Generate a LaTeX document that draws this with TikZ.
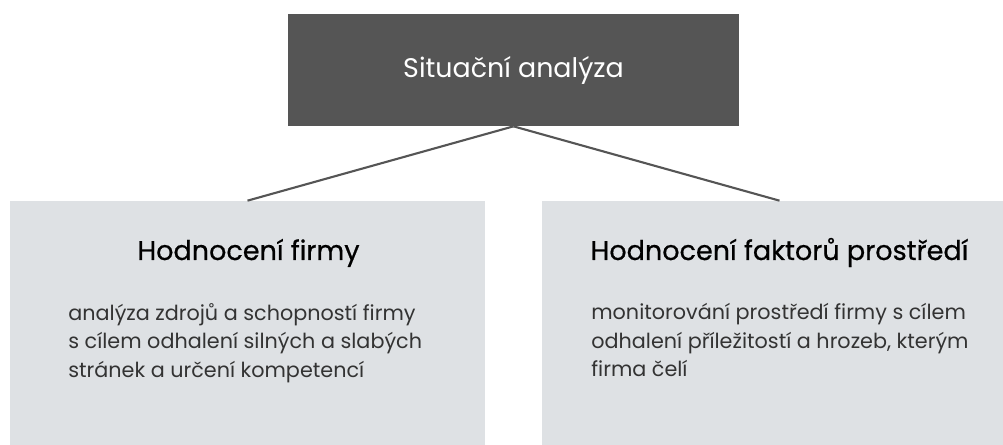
\documentclass[tikz,border=0pt]{standalone}
\usepackage{fontspec}
\setmainfont{Poppins}
\newfontfamily\headfont{Poppins}[FakeBold=0.6]
\usetikzlibrary{positioning}
\definecolor{darkbox}{HTML}{555555}
\definecolor{lightbox}{HTML}{DEE1E4}
\definecolor{bodytext}{HTML}{333333}
\tikzset{
  topbox/.style={fill=darkbox, text=white, minimum width=9.02cm, minimum height=2.24cm,
    font=\fontsize{15.3}{18}\selectfont},
  factorbox/.style={fill=lightbox, minimum width=9.5cm, minimum height=4.88cm},
  heading/.style={font=\headfont\fontsize{15.4}{18}\selectfont, text=black, anchor=base},
  bodytxt/.style={font=\fontsize{11.8}{16.2}\selectfont, text=bodytext, align=left,
    anchor=north west, inner sep=0pt},
  link/.style={draw=darkbox, line width=1.2pt}
}
\begin{document}
\begin{tikzpicture}[x=0.02cm,y=-0.02cm]
  \useasboundingbox (0,0) rectangle (1003,445);
  \clip (0,0) rectangle (1003,445);
  \node[topbox] (situace) at (513.5,70) {Situační analýza};
  \node[factorbox] (firma) at (247.5,323) {};
  \node[factorbox] (prostredi) at (779.5,323) {};
  \node[heading] (firmahead) at (248.5,260) {Hodnocení firmy};
  \node[heading] (prostredihead) at (779.5,260) {Hodnocení faktorů prostředí};
  \node[bodytxt] (firmatext) at (68,303) {analýza zdrojů a schopností firmy\\
    s cílem odhalení silných a slabých\\stránek a určení kompetencí};
  \node[bodytxt] (prostreditext) at (591,303) {monitorování prostředí firmy s cílem\\
    odhalení příležitostí a hrozeb, kterým\\firma čelí};
  \draw[link] (situace.south) -- (firma.north);
  \draw[link] (situace.south) -- (prostredi.north);
\end{tikzpicture}
\end{document}
